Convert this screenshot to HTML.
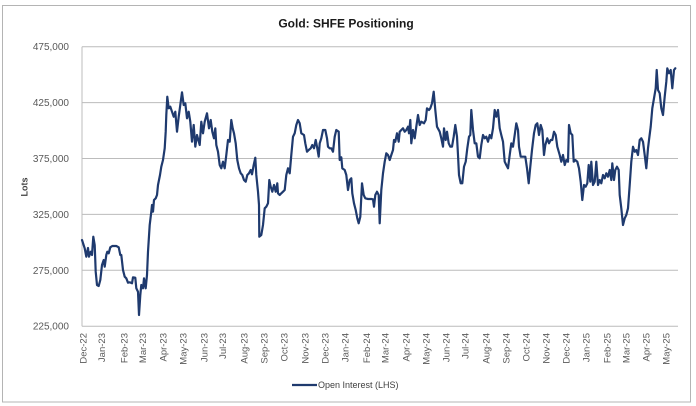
<!DOCTYPE html>
<html><head><meta charset="utf-8"><style>
html,body{margin:0;padding:0;background:#fff;width:696px;height:406px;overflow:hidden}
svg{display:block}
text{font-family:"Liberation Sans",sans-serif}
</style></head><body>
<svg width="696" height="406" viewBox="0 0 696 406" xmlns="http://www.w3.org/2000/svg">
<rect x="2.5" y="5.5" width="688" height="396.5" fill="#fff" stroke="#b4b4b4" stroke-width="1"/>
<text x="346" y="27.5" text-anchor="middle" font-size="12" font-weight="bold" fill="#1a1a1a">Gold: SHFE Positioning</text>
<g stroke="#bcbcbc" stroke-width="1">
<line x1="82" y1="46.7" x2="678" y2="46.7"/>
<line x1="82" y1="102.6" x2="678" y2="102.6"/>
<line x1="82" y1="158.5" x2="678" y2="158.5"/>
<line x1="82" y1="214.4" x2="678" y2="214.4"/>
<line x1="82" y1="270.3" x2="678" y2="270.3"/>
<line x1="82" y1="326.2" x2="678" y2="326.2"/>
<line x1="82" y1="46.7" x2="82" y2="326.2"/>
</g>
<g font-size="10" fill="#595959" text-anchor="end">
<text x="69" y="50.2">475,000</text>
<text x="69" y="106.1">425,000</text>
<text x="69" y="162">375,000</text>
<text x="69" y="217.9">325,000</text>
<text x="69" y="273.8">275,000</text>
<text x="69" y="329.7">225,000</text>
</g>
<text transform="translate(27.5,187) rotate(-90)" text-anchor="middle" font-size="9" font-weight="bold" fill="#404040">Lots</text>
<g font-size="9.5" fill="#595959" text-anchor="end">
<text transform="translate(86.6,333) rotate(-90)">Dec-22</text>
<text transform="translate(105,333) rotate(-90)">Jan-23</text>
<text transform="translate(127.3,333) rotate(-90)">Feb-23</text>
<text transform="translate(146,333) rotate(-90)">Mar-23</text>
<text transform="translate(166.6,333) rotate(-90)">Apr-23</text>
<text transform="translate(186.6,333) rotate(-90)">May-23</text>
<text transform="translate(207.3,333) rotate(-90)">Jun-23</text>
<text transform="translate(226,333) rotate(-90)">Jul-23</text>
<text transform="translate(247.6,333) rotate(-90)">Aug-23</text>
<text transform="translate(267.6,333) rotate(-90)">Sep-23</text>
<text transform="translate(287.6,333) rotate(-90)">Oct-23</text>
<text transform="translate(308.3,333) rotate(-90)">Nov-23</text>
<text transform="translate(328.3,333) rotate(-90)">Dec-23</text>
<text transform="translate(348.3,333) rotate(-90)">Jan-24</text>
<text transform="translate(370,333) rotate(-90)">Feb-24</text>
<text transform="translate(388.6,333) rotate(-90)">Mar-24</text>
<text transform="translate(409.3,333) rotate(-90)">Apr-24</text>
<text transform="translate(429.3,333) rotate(-90)">May-24</text>
<text transform="translate(449.3,333) rotate(-90)">Jun-24</text>
<text transform="translate(468.6,333) rotate(-90)">Jul-24</text>
<text transform="translate(489.3,333) rotate(-90)">Aug-24</text>
<text transform="translate(509.3,333) rotate(-90)">Sep-24</text>
<text transform="translate(529.3,333) rotate(-90)">Oct-24</text>
<text transform="translate(549.3,333) rotate(-90)">Nov-24</text>
<text transform="translate(569.3,333) rotate(-90)">Dec-24</text>
<text transform="translate(589.3,333) rotate(-90)">Jan-25</text>
<text transform="translate(610.3,333) rotate(-90)">Feb-25</text>
<text transform="translate(629.3,333) rotate(-90)">Mar-25</text>
<text transform="translate(649.3,333) rotate(-90)">Apr-25</text>
<text transform="translate(669.3,333) rotate(-90)">May-25</text>
</g>
<polyline fill="none" stroke="#1f3a6e" stroke-width="2.2" stroke-linejoin="round" stroke-linecap="round" points="82,240 84.7,248.3 86.3,256.7 88,248 89,256.7 90.7,251.7 92,255 93.3,236.7 94.7,245 95.7,271.7 97,285 98.7,286 100.3,280 102,265 103.7,260 104.7,266.7 106.3,255 107.3,251.7 108.7,253.3 110.3,247.3 112.3,246 116.3,246 118.7,247.3 120.3,255 121.3,255 123,270 124.7,276.7 126.3,278.3 128,282.7 129.7,282.3 132,283.3 133,277.3 135.3,277.7 136.3,288.3 138,291.7 139,315 140.3,295 141.3,285 143,288.3 144,278.3 145.7,288.3 147,275 148,251.7 149.7,225 151.3,211.7 152,205 153,211.7 154,200 155.7,198.3 157,195 158,185 159,180 160,175 161.3,166.7 163,160 164.7,148.3 165.7,131.7 166.3,115 167.3,96.7 168.7,108.3 170.3,106.7 172,111.7 173.7,116.7 175.3,111.7 177,131.7 178.7,116.7 180.3,105 182,92.3 183.7,105 185.3,103.3 187,118.3 188.7,111.7 190.3,121.7 192,141.7 193.7,125 195.3,146.7 197,135 199.7,145 201.3,121.7 203,133.3 204.7,121.7 207,113.3 209,128.3 210.7,120 212.3,131.7 214,138.3 215.3,128.3 216.3,145 218,151.7 219.7,165 221.3,168.3 223,161.7 224.7,168.3 226.3,155 228,140 229.7,141.7 231.3,120 232.7,128.3 234,133.3 235.7,143.3 237.3,160 239,168.3 240.7,173.3 242.3,175 244,180 245.7,181.7 247.3,175 249,173.3 250.7,170 252,174.3 253.7,165 255.3,157.7 256.3,175 258,191.7 259,205 259.3,236.7 261.3,235 263,225 264.7,208.3 266.3,206.7 268,203.3 269.3,180 270.7,186.7 272.3,191.7 274,185 275.7,191.7 277.3,183.3 278,193.3 279.7,195 281.3,193.3 283,191.7 284.7,190 286.3,175 288,168.3 289.7,173.3 291.3,155 293,136.7 294.7,133.3 296.3,125 298,120 299.7,123.3 301.3,133.3 304,135 305.3,143.3 307,151.7 308.7,150 310.7,148.3 312.3,145 314,148.3 315.7,140 317.3,148.3 318.7,156.7 319.7,143.3 321.3,138.3 323,130 325.3,130 327,138.3 328,146.7 329.7,148.3 331.3,148.3 333,151.7 334.7,136.7 336.3,130 338.7,131.7 339.7,160 341.3,157.3 342.3,168.3 344.7,170 346.3,175 348,190 349.7,180 351.3,178.3 352.3,193.3 354,203.3 355.7,210 357.3,218.3 358.7,223.3 360.3,216.7 362,183.3 363.7,195 365.3,198.3 368,199 371.3,199 373,199.3 374,206.7 375.3,195 377,191.7 378.7,195 379.7,223.3 381.3,190 383,173.3 384.7,161.7 386.3,153.3 388,155 389.7,160 391.3,155 393,150 394,140 395.3,141.7 397,133.3 398.7,141.7 399.7,131.7 401.3,130 403,128.3 404.7,131.7 406.3,130 408,126.7 409,133.3 410.3,120 411.3,143.3 413,130 414.7,138.3 416.3,126.7 418,115 419.7,125 421.3,121.7 424,123.3 425.7,120 427,108.3 429,110 430.3,108.3 432,103.3 433.7,91.7 435.3,110 437,126.7 439.7,131.7 441.3,138.3 443,146.7 444,128.3 445.7,140 447,131.7 448.7,143.3 450.3,146.7 452,146.7 453.7,136.7 455.3,125 457,136.7 458,155 459,175 460.7,183.3 462.3,183.3 464,166.7 465.7,161.7 467.3,148.3 469,136.7 470.3,135 471.3,110 473,130 474.7,143.3 476.3,143.3 478,156.7 479.7,158.3 481.3,145 483,135 484.7,138.3 486.3,136.7 488,141.7 489.7,135 491.3,138.3 493,128.3 494.7,110 496.3,116.7 498,110 499.7,128.3 501.3,135 503,141.7 504.7,161.7 506.3,165 508,168.3 509.7,155 511.3,143.3 513,146.7 514.7,135 516.3,123.3 518,130 519,146.7 520.7,156.7 523,156.7 525.3,156.7 527,168.3 528.7,183.3 530.3,166.7 532,150 534,133.3 535.7,125 537.3,123.3 539,135 540.7,125 542.3,130 544,155 545.3,145 547.3,138.3 549,143.3 550.7,140 552.3,140 554,131.7 555.7,135 557.3,146.7 559.7,155 561.3,161.7 563,155 564.7,165 566.3,160 568,161.7 569,125 570.7,133.3 572.3,135 573.7,161.7 575.3,160 577.3,161.7 579,168.3 580.7,181.7 582.3,200 584,185 585.7,186.7 587.3,183.3 588.7,165 590.3,181.7 591.3,161.7 593,185 594.7,181.7 596.3,161.7 598,185 599.7,180 601.3,183.3 603,175 604.7,178.3 606.3,173.3 608,176.7 609.7,170 611.3,180 612.3,163.3 614,180 615.3,170 617,166.7 618.7,170 619.7,195 621.3,208.3 623,225 624.7,218.3 626.3,215 628,208.3 629.7,185 631.3,161.7 633,146.7 634.7,151.7 636.3,150 638,155 639.7,140 641.3,138.3 643,141.7 644.7,155 646.3,168.3 648,148.3 649,140 650.7,126.7 652.3,108.3 654,98.3 655.7,88.3 656.7,70 658,90 659.7,93.3 661.3,108.3 663,115 664.7,96.7 666.3,81.7 667.3,68.3 669,73.3 670.7,70 672.3,88.3 674,70 675.3,68.3"/>
<line x1="292" y1="385" x2="317" y2="385" stroke="#1f3a6e" stroke-width="2.2"/>
<text x="318" y="388.2" font-size="9" fill="#404040">Open Interest (LHS)</text>
</svg>
</body></html>
